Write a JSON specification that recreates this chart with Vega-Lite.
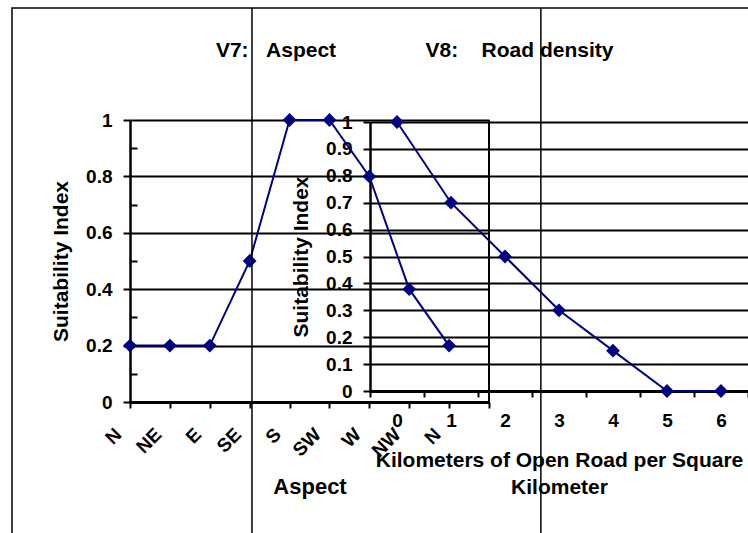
{
  "$schema": "https://vega.github.io/schema/vega-lite/v6.json",
  "width": 738,
  "height": 527,
  "autosize": "none",
  "padding": {"left": 12, "top": 8, "right": 0, "bottom": 0},
  "background": "white",
  "config": {
    "view": {"stroke": "black", "strokeWidth": 1.5},
    "axis": {
      "labelFont": "Liberation Sans", "labelFontWeight": "bold", "labelFontSize": 19, "labelColor": "black",
      "titleFont": "Liberation Sans", "titleFontWeight": "bold", "titleFontSize": 21, "titleColor": "black",
      "domainColor": "black", "tickColor": "black", "gridColor": "black",
      "labelOverlap": false, "labelBound": false, "labelFlush": false
    }
  },
  "datasets": {
    "aspect": [
      {"idx": 0, "dir": "N", "suit": 0.2},
      {"idx": 1, "dir": "NE", "suit": 0.2},
      {"idx": 2, "dir": "E", "suit": 0.2},
      {"idx": 3, "dir": "SE", "suit": 0.5},
      {"idx": 4, "dir": "S", "suit": 1.0},
      {"idx": 5, "dir": "SW", "suit": 1.0},
      {"idx": 6, "dir": "W", "suit": 0.8},
      {"idx": 7, "dir": "NW", "suit": 0.4},
      {"idx": 8, "dir": "N", "suit": 0.2}
    ],
    "road": [
      {"km": 0, "suit": 1.0},
      {"km": 1, "suit": 0.7},
      {"km": 2, "suit": 0.5},
      {"km": 3, "suit": 0.3},
      {"km": 4, "suit": 0.15},
      {"km": 5, "suit": 0.0},
      {"km": 6, "suit": 0.0}
    ]
  },
  "layer": [
    {
      "data": {"name": "aspect"},
      "layer": [
        {
          "mark": {"type": "line", "color": "#000080", "strokeWidth": 2},
          "encoding": {
            "x": {
              "field": "idx", "type": "quantitative",
              "scale": {"domain": [0, 9], "range": [118, 477], "nice": false, "zero": false},
              "axis": {
                "orient": "bottom", "offset": -133, "values": [0, 1, 2, 3, 4, 5, 6, 7, 8, 9],
                "labelExpr": "['N','NE','E','SE','S','SW','W','NW','N',''][datum.value]",
                "labelAngle": -45, "labelAlign": "right", "labelBaseline": "middle",
                "labelOffset": -12, "labelPadding": 23,
                "tickSize": 6, "tickWidth": 2, "domainWidth": 3, "grid": false,
                "title": "Aspect", "titleY": 91, "titleBaseline": "alphabetic", "titleFontSize": 22
              }
            },
            "y": {
              "field": "suit", "type": "quantitative",
              "scale": {"domain": [0, 1], "range": [394, 112], "nice": false, "zero": false},
              "axis": {
                "orient": "left", "offset": -118,
                "values": [0, 0.1, 0.2, 0.3, 0.4, 0.5, 0.6, 0.7, 0.8, 0.9, 1],
                "format": "~g",
                "labelExpr": "abs(datum.value*5 - round(datum.value*5)) < 0.001 ? datum.label : ''",
                "tickSize": {"condition": {"test": "abs(datum.value*5 - round(datum.value*5)) < 0.001", "value": 7}, "value": -7},
                "gridOpacity": {"condition": {"test": "abs(datum.value*5 - round(datum.value*5)) < 0.001", "value": 1}, "value": 0},
                "grid": true, "gridWidth": 2, "tickWidth": 2, "domainWidth": 2.5, "labelPadding": 11,
                "title": "Suitability Index", "titleX": -69, "titleBaseline": "middle", "titleAngle": -90
              }
            }
          }
        },
        {
          "mark": {"type": "point", "shape": "diamond", "filled": true, "color": "#000080", "size": 190, "opacity": 1},
          "encoding": {
            "x": {"field": "idx", "type": "quantitative"},
            "y": {"field": "suit", "type": "quantitative"}
          }
        },
        {
          "data": {"values": [{}]},
          "mark": {"type": "rule", "color": "black", "strokeWidth": 2},
          "encoding": {"x": {"datum": 9}, "y": {"datum": 0}, "y2": {"datum": 1}}
        },
        {
          "data": {"values": [{}]},
          "mark": {"type": "rule", "color": "black", "strokeWidth": 1.5},
          "encoding": {"x": {"datum": 3.058}}
        },
        {
          "data": {"values": [{}]},
          "mark": {"type": "rule", "color": "black", "strokeWidth": 1.5},
          "encoding": {"x": {"datum": 10.3}}
        },
        {
          "data": {"values": [{}]},
          "mark": {"type": "text", "font": "Liberation Sans", "fontWeight": "bold", "fontSize": 21, "align": "center", "baseline": "alphabetic", "color": "black"},
          "encoding": {"x": {"datum": 3.66}, "y": {"datum": 1.223}, "text": {"value": "V7:\u00a0\u00a0\u00a0Aspect"}}
        },
        {
          "data": {"values": [{}]},
          "mark": {"type": "text", "font": "Liberation Sans", "fontWeight": "bold", "fontSize": 21, "align": "center", "baseline": "alphabetic", "color": "black"},
          "encoding": {"x": {"datum": 9.765}, "y": {"datum": 1.223}, "text": {"value": "V8:\u00a0\u00a0\u00a0\u00a0Road density"}}
        }
      ]
    },
    {
      "data": {"name": "road"},
      "layer": [
        {
          "mark": {"type": "line", "color": "#000080", "strokeWidth": 2},
          "encoding": {
            "x": {
              "field": "km", "type": "ordinal",
              "scale": {"type": "band", "range": [358, 736], "paddingInner": 0, "paddingOuter": 0},
              "axis": {
                "orient": "bottom", "offset": -144, "labelAngle": 0, "tickBand": "extent",
                "tickSize": 6, "tickWidth": 2, "domainWidth": 3, "labelPadding": 14, "labelBaseline": "top",
                "grid": false,
                "title": ["Kilometers of Open Road per Square", "Kilometer"],
                "titleY": 75, "titleBaseline": "alphabetic", "titleLineHeight": 27
              }
            },
            "y": {
              "field": "suit", "type": "quantitative",
              "scale": {"domain": [0, 1], "range": [383, 114], "nice": false, "zero": false},
              "axis": {
                "orient": "left", "offset": -358,
                "values": [0, 0.1, 0.2, 0.3, 0.4, 0.5, 0.6, 0.7, 0.8, 0.9, 1],
                "format": "~g", "grid": true, "gridWidth": 2, "tickSize": 7, "tickWidth": 2,
                "domainWidth": 2.5, "labelPadding": 11,
                "title": "Suitability Index", "titleX": -69, "titleBaseline": "middle", "titleAngle": -90
              }
            }
          }
        },
        {
          "mark": {"type": "point", "shape": "diamond", "filled": true, "color": "#000080", "size": 190, "opacity": 1},
          "encoding": {
            "x": {"field": "km", "type": "ordinal"},
            "y": {"field": "suit", "type": "quantitative"}
          }
        }
      ]
    }
  ],
  "resolve": {
    "scale": {"x": "independent", "y": "independent"},
    "axis": {"x": "independent", "y": "independent"}
  }
}
